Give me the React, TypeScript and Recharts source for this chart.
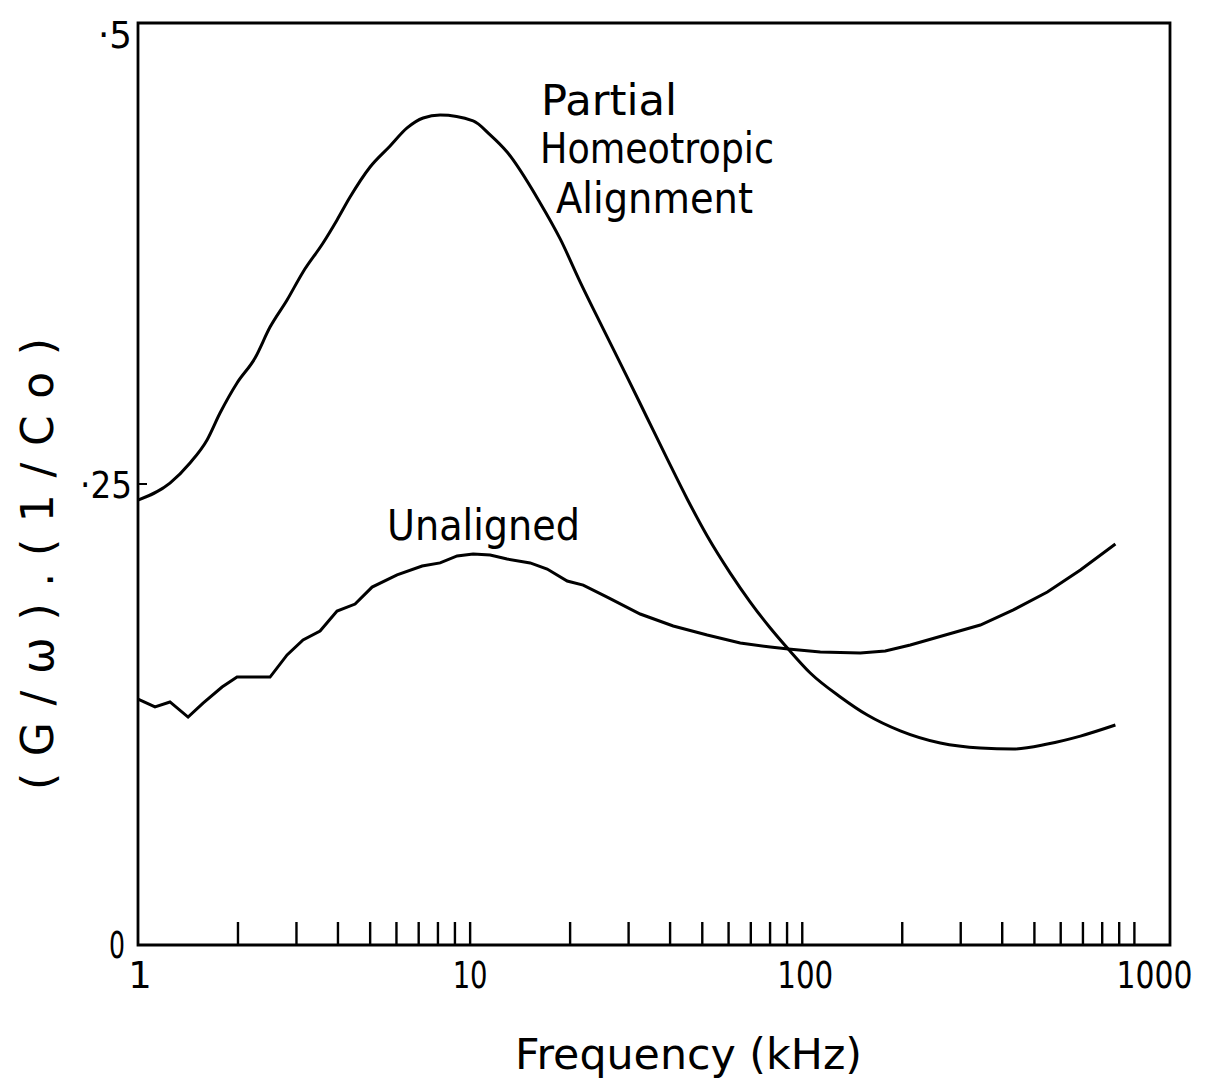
import React from "react";
import { LineChart, Line, XAxis, YAxis, ReferenceArea } from "recharts";

// Frequency (kHz) and (G/ω).(1/Co)
const unalignedFreq = [1.0, 1.125, 1.248, 1.415, 1.57, 1.791, 1.987, 2.498, 2.811, 3.14, 3.533, 3.975, 4.504, 5.068, 6.027, 7.169, 8.121, 9.138, 10.21, 11.49, 12.92, 15.16, 17.06, 19.6, 21.9, 25.86, 32.51, 40.88, 51.74, 65.06, 80.11, 90.74, 113.3, 149.5, 177.8, 211.5, 269.6, 343.7, 432.1, 547.0, 687.8, 876.6];
const unalignedValue = [0.1334, 0.1291, 0.1318, 0.1236, 0.1312, 0.1399, 0.1453, 0.1453, 0.1573, 0.1654, 0.1703, 0.1811, 0.1849, 0.1941, 0.2007, 0.2055, 0.2072, 0.211, 0.212, 0.2115, 0.2093, 0.2072, 0.2039, 0.1974, 0.1952, 0.1887, 0.1795, 0.173, 0.1681, 0.1638, 0.1616, 0.1605, 0.1589, 0.1584, 0.1594, 0.1627, 0.1681, 0.1735, 0.1817, 0.1914, 0.2034, 0.2175];

const partialFreq = [1.0, 1.248, 1.434, 1.614, 1.766, 1.987, 2.251, 2.498, 2.811, 3.14, 3.607, 3.975, 4.35, 4.998, 5.741, 6.459, 7.219, 8.121, 10.21, 11.49, 12.92, 16.25, 18.67, 21.45, 25.16, 29.71, 34.13, 39.21, 45.04, 51.74, 60.69, 69.72, 80.11, 90.74, 105.7, 130.2, 157.0, 197.3, 260.4, 343.7, 432.1, 547.0, 687.8, 876.6];
const partialValue = [0.2413, 0.2505, 0.2614, 0.2739, 0.2885, 0.3048, 0.3183, 0.3351, 0.3498, 0.365, 0.3807, 0.3932, 0.4056, 0.4219, 0.4333, 0.4431, 0.4485, 0.4501, 0.4469, 0.4393, 0.43, 0.4024, 0.3829, 0.3595, 0.3341, 0.308, 0.2858, 0.2636, 0.2419, 0.2218, 0.2017, 0.186, 0.1719, 0.1605, 0.1475, 0.1345, 0.1247, 0.1161, 0.1095, 0.1068, 0.1063, 0.109, 0.1133, 0.1193];

const xTickValues = [1, 2, 3, 4, 5, 6, 7, 8, 9, 10, 20, 30, 40, 50, 60, 70, 80, 90, 100, 200, 300, 400, 500, 600, 700, 800, 900, 1000];
const xTickLabels: Record<number, string> = { 1: "1", 10: "10", 100: "100", 1000: "1000" };
const yTickValues = [0, 0.25, 0.5];
const yTickLabels: Record<string, string> = { "0": "0", "0.25": "\u00b725", "0.5": "\u00b75" };

const xAxisTitle = "Frequency  (kHz)";
const yAxisTitle = "(G/\u03c9).(1/Co)";
const partialLabel = ["Partial", "Homeotropic", "Alignment"];
const unalignedLabel = "Unaligned";

const partialData = partialFreq.map((f, i) => ({ f, v: partialValue[i] }));
const unalignedData = unalignedFreq.map((f, i) => ({ f, v: unalignedValue[i] }));

const FONT = "'DejaVu Sans', sans-serif";
const INK = "#000";

const xLabelWidth: Record<string, number | undefined> = { "1": undefined, "10": 35, "100": 56, "1000": 76 };
const xLabelShift: Record<string, number> = { "1": 2, "10": 0, "100": 3, "1000": 20 };

function XTick(props: any) {
  const { x, y, payload } = props;
  const v = payload.value;
  const label = xTickLabels[v];
  return (
    <g>
      {v !== 1 && <line x1={x} x2={x} y1={y} y2={y - 23} stroke={INK} strokeWidth={2.4} />}
      {label && (
        <text
          x={x + xLabelShift[label]}
          y={y + 43}
          textAnchor="middle"
          fontSize={37}
          fontFamily={FONT}
          fill={INK}
          textLength={xLabelWidth[label]}
          lengthAdjust="spacingAndGlyphs"
        >
          {label}
        </text>
      )}
    </g>
  );
}

const yLabelWidth: Record<string, number> = { "0": 16, "0.25": 52, "0.5": 34 };
const yLabelDy: Record<string, number> = { "0": 13, "0.25": 14, "0.5": 25 };
const yLabelDx: Record<string, number> = { "0": -13, "0.25": -6, "0.5": -6 };

function YTick(props: any) {
  const { x, y, payload } = props;
  const key = String(payload.value);
  return (
    <g>
      <line x1={x} x2={x + 9} y1={y} y2={y} stroke={INK} strokeWidth={2} />
      <text
        x={x + yLabelDx[key]}
        y={y + yLabelDy[key]}
        textAnchor="end"
        fontSize={38}
        fontFamily={FONT}
        fill={INK}
        textLength={yLabelWidth[key]}
        lengthAdjust="spacingAndGlyphs"
      >
        {yTickLabels[key]}
      </text>
    </g>
  );
}

export default function App() {
  return (
    <div style={{ position: "relative", width: 1210, height: 1082 }}>
      <style>{"body{margin:0}"}</style>
      <LineChart width={1210} height={1082} margin={{ top: 23, right: 40, left: 78, bottom: 77 }}>
        <XAxis
          dataKey="f"
          type="number"
          scale="log"
          domain={[1, 1280]}
          allowDataOverflow
          ticks={xTickValues}
          interval={0}
          tick={<XTick />}
          tickSize={0}
          tickMargin={0}
          axisLine={false}
          height={60}
        />
        <YAxis
          type="number"
          domain={[0, 0.5]}
          ticks={yTickValues}
          interval={0}
          tick={<YTick />}
          tickSize={0}
          tickMargin={0}
          axisLine={false}
          width={60}
        />
        <ReferenceArea x1={1} x2={1280} y1={0} y2={0.5} fill="none" fillOpacity={0} stroke={INK} strokeWidth={2.8} ifOverflow="visible" />
        <Line data={partialData} dataKey="v" type="monotoneX" stroke={INK} strokeWidth={3} dot={false} isAnimationActive={false} />
        <Line data={unalignedData} dataKey="v" type="linear" stroke={INK} strokeWidth={3} dot={false} isAnimationActive={false} />
      </LineChart>
      <svg width={1210} height={1082} style={{ position: "absolute", left: 0, top: 0, pointerEvents: "none" }}>
        <g fontFamily={FONT} fill={INK} fontSize={42}>
          <text x={541} y={115} textLength={136} lengthAdjust="spacingAndGlyphs">{partialLabel[0]}</text>
          <text x={540} y={163} textLength={234} lengthAdjust="spacingAndGlyphs">{partialLabel[1]}</text>
          <text x={556} y={213} textLength={197} lengthAdjust="spacingAndGlyphs">{partialLabel[2]}</text>
          <text x={387} y={540} textLength={193} lengthAdjust="spacingAndGlyphs">{unalignedLabel}</text>
          <text x={515} y={1069} fontSize={42} textLength={347} lengthAdjust="spacingAndGlyphs">{xAxisTitle}</text>
          <text x={53} y={564} fontSize={44} textAnchor="middle" textLength={452} transform="rotate(-90 53 564)">{yAxisTitle}</text>
        </g>
      </svg>
    </div>
  );
}
